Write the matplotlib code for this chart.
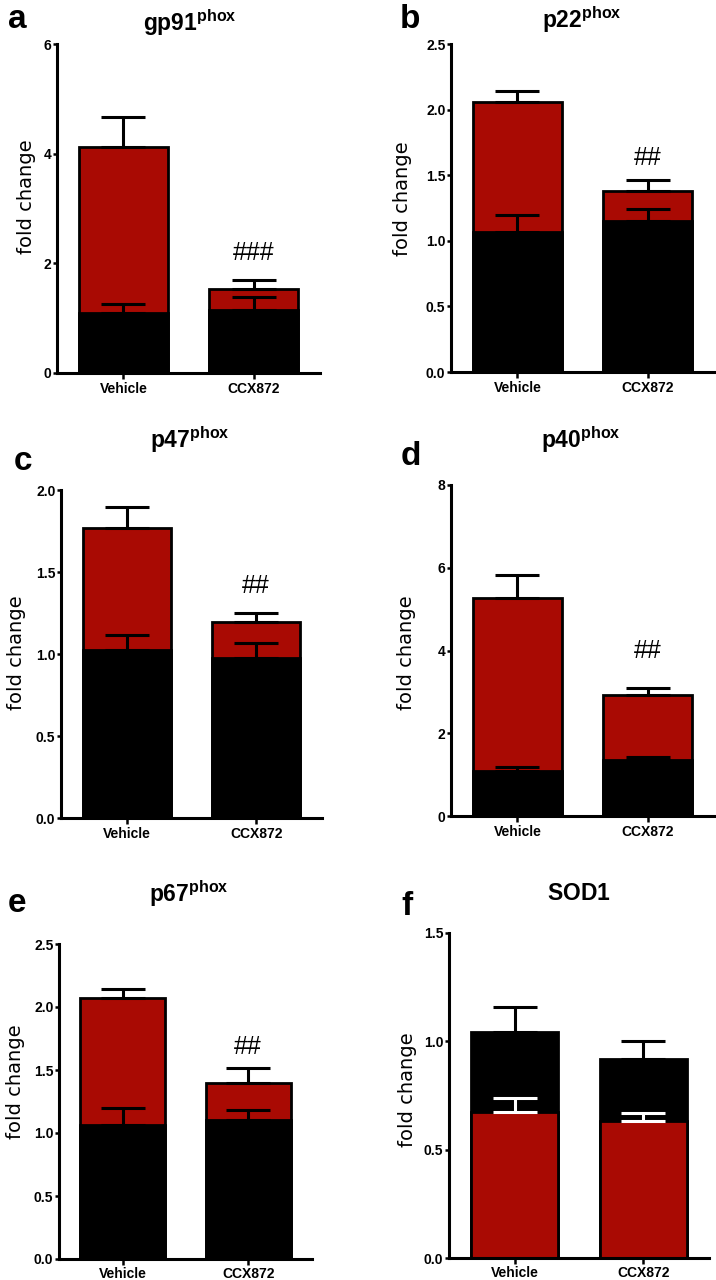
import numpy as np
import matplotlib
matplotlib.use("Agg")
import matplotlib.pyplot as plt

plt.rcParams["font.family"] = ["Liberation Sans", "DejaVu Sans"]
plt.rcParams["mathtext.fontset"] = "custom"
plt.rcParams["mathtext.bf"] = "Liberation Sans:bold"
plt.rcParams["mathtext.rm"] = "Liberation Sans"

# ---------------- data ----------------
groups = ["Vehicle", "CCX872"]
panel_letters = ["a", "b", "c", "d", "e", "f"]
gene_titles = [r"$\mathbf{gp91}^{\mathbf{phox}}$", r"$\mathbf{p22}^{\mathbf{phox}}$",
               r"$\mathbf{p47}^{\mathbf{phox}}$", r"$\mathbf{p40}^{\mathbf{phox}}$",
               r"$\mathbf{p67}^{\mathbf{phox}}$", r"$\mathbf{SOD1}$"]

red_vehicle = [4.12, 2.055, 1.77, 5.28, 2.07, 0.675]
red_vehicle_sem = [0.54, 0.09, 0.124, 0.54, 0.074, 0.062]
red_ccx = [1.53, 1.38, 1.194, 2.93, 1.40, 0.634]
red_ccx_sem = [0.17, 0.083, 0.053, 0.16, 0.112, 0.035]

black_vehicle = [1.09, 1.067, 1.027, 1.088, 1.062, 1.042]
black_vehicle_sem = [0.16, 0.133, 0.09, 0.10, 0.133, 0.115]
black_ccx = [1.15, 1.153, 0.973, 1.354, 1.105, 0.92]
black_ccx_sem = [0.24, 0.089, 0.097, 0.076, 0.074, 0.083]

y_max = [6, 2.5, 2.0, 8, 2.5, 1.5]
y_step = [2, 0.5, 0.5, 2, 0.5, 0.5]
y_fmt = ["{:.0f}", "{:.1f}", "{:.1f}", "{:.0f}", "{:.1f}", "{:.1f}"]

sig_labels = ["###", "##", "##", "##", "##", ""]
sig_heights = [2.24, 1.65, 1.43, 4.05, 1.706, 0.0]

# ---------------- layout (pixels) ----------------
W, H = 716, 1280
axes_px = [(57, 44, 320, 373), (451, 44, 714, 372), (61, 490, 322, 818),
           (451, 485, 714, 816), (59, 944, 312, 1259), (449, 933, 709, 1258)]
letter_px = [(17, 28), (410, 28), (23, 470), (411, 465), (17, 912), (407, 915)]
title_px = [(190, 31), (582, 28), (190, 448), (581, 448), (189, 902), (579, 900)]
ylabel_px = [(26, 197), (402, 199), (17, 653), (406, 653), (16, 1082), (407, 1090)]

RED = "#A90A03"

fig = plt.figure(figsize=(W / 100, H / 100), dpi=100)

for i in range(6):
    x0, y0, x1, y1 = axes_px[i]
    ax = fig.add_axes([x0 / W, 1 - y1 / H, (x1 - x0) / W, (y1 - y0) / H])
    xs = np.arange(len(groups))
    reds = [red_vehicle[i], red_ccx[i]]
    reds_e = [red_vehicle_sem[i], red_ccx_sem[i]]
    blacks = [black_vehicle[i], black_ccx[i]]
    blacks_e = [black_vehicle_sem[i], black_ccx_sem[i]]
    width = 0.68
    for j in range(len(groups)):
        series = [(reds[j], reds_e[j], RED), (blacks[j], blacks_e[j], "black")]
        series.sort(key=lambda s: -s[0])  # taller behind
        for k, (v, e, c) in enumerate(series):
            z = 2 + 2 * k
            ax.bar(xs[j], v, width, color=c, edgecolor="black", linewidth=2, zorder=z)
            ecol = "white" if (k == 1 and c == RED) else "black"
            ax.errorbar(xs[j], v, yerr=[[0], [e]], fmt="none", ecolor=ecol,
                        elinewidth=2.2, capsize=16, capthick=2.2, zorder=z + 1)
    ax.set_xlim(-0.51, 1.51)
    ax.set_ylim(0, y_max[i])
    ticks = np.arange(0, y_max[i] + 1e-9, y_step[i])
    ax.set_yticks(ticks, [y_fmt[i].format(t) for t in ticks], fontweight="bold", fontsize=10)
    ax.set_xticks(xs, groups, fontweight="bold", fontsize=10)
    ax.tick_params(axis="y", direction="out", length=3, width=1.8, pad=1)
    ax.tick_params(axis="x", direction="out", length=4, width=1.8,
                   pad=2.5 if i < 4 else 1.5)
    for s in ["top", "right"]:
        ax.spines[s].set_visible(False)
    for s in ["left", "bottom"]:
        ax.spines[s].set_linewidth(2.2)
        ax.spines[s].set_zorder(10)
    if sig_labels[i]:
        ax.text(1, sig_heights[i], sig_labels[i], ha="center", va="center_baseline",
                fontsize=18, zorder=12)

    lx, ly = letter_px[i]
    fig.text(lx / W, 1 - ly / H, panel_letters[i], fontsize=24, fontweight="bold",
             ha="center", va="baseline")
    tx, ty = title_px[i]
    fig.text(tx / W, 1 - ty / H, gene_titles[i], fontsize=16.5, ha="center", va="baseline")
    yx, yy = ylabel_px[i]
    fig.text(yx / W, 1 - yy / H, "fold change", fontsize=14, family="DejaVu Sans",
             rotation=90, ha="center", va="center")

fig.savefig("out.png", dpi=100, facecolor="white")
